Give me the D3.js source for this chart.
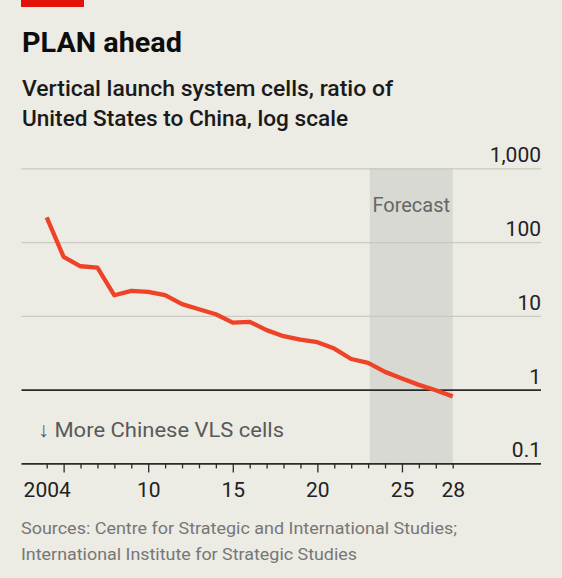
<!DOCTYPE html>
<html>
<head>
<meta charset="utf-8">
<script src="https://cdn.jsdelivr.net/npm/d3@7"></script>
<style>
  html, body { margin: 0; padding: 0; background: #ecebe4; }
  svg { display: block; }
  text { font-family: Roboto, "Noto Sans", sans-serif; }
</style>
</head>
<body>
<svg id="chart" width="562" height="578"></svg>
<script>
// ---- data ----
const years = [2004, 2005, 2006, 2007, 2008, 2009, 2010, 2011, 2012, 2013, 2014, 2015, 2016,
               2017, 2018, 2019, 2020, 2021, 2022, 2023, 2024, 2025, 2026, 2027, 2028];
const ratio = [216, 63, 47, 45, 19, 21.8, 21.2, 19.1, 14.4, 12.3, 10.5, 8.1, 8.3,
               6.4, 5.3, 4.75, 4.4, 3.6, 2.6, 2.3, 1.74, 1.42, 1.16, 0.98, 0.81];
const forecastRange = [2023.1, 2028];
const yTicks = [0.1, 1, 10, 100, 1000];
const yTickLabels = ["0.1", "1", "10", "100", "1,000"];
const xMajorTicks = [2004, 2010, 2015, 2020, 2025, 2028];
const xTickLabels = ["2004", "10", "15", "20", "25", "28"];
const titleText = "PLAN ahead";
const subtitleLines = ["Vertical launch system cells, ratio of", "United States to China, log scale"];
const sourceLines = ["Sources: Centre for Strategic and International Studies;",
                     "International Institute for Strategic Studies"];

// ---- layout ----
const svg = d3.select("#chart");
const gridLeft = 21.5, gridRight = 541;
const x = d3.scaleLinear().domain([2004, 2028]).range([46.7, 452.7]);
const y = d3.scaleLog().domain([0.1, 1000]).range([463.4, 168.3]);

// red tag
svg.append("rect").attr("x", 21).attr("y", 0).attr("width", 63).attr("height", 7).attr("fill", "#e3120b");

// title
svg.append("text").attr("x", 22).attr("y", 51.5).text(titleText)
  .attr("font-size", 28).attr("font-weight", 700).attr("fill", "#0d0d0d")
  .attr("textLength", 160).attr("lengthAdjust", "spacingAndGlyphs");

// subtitle
const subW = [371, 326];
svg.selectAll("text.sub").data(subtitleLines).join("text").attr("class", "sub")
  .attr("x", 22).attr("y", (d, i) => 96 + i * 29.5).text(d => d)
  .attr("font-size", 22).attr("font-weight", 500).attr("fill", "#1a1a1a")
  .attr("textLength", (d, i) => subW[i]).attr("lengthAdjust", "spacingAndGlyphs");

// forecast shading
svg.append("rect")
  .attr("x", x(forecastRange[0])).attr("width", x(forecastRange[1]) - x(forecastRange[0]))
  .attr("y", y(1000)).attr("height", y(0.1) - y(1000))
  .attr("fill", "#d9d9d3");
svg.append("text").attr("x", (x(forecastRange[0]) + x(forecastRange[1])) / 2).attr("y", 211.5)
  .attr("text-anchor", "middle").attr("font-size", 20).attr("fill", "#666")
  .text("Forecast");

// gridlines
const yAxis = d3.axisRight(y).tickValues(yTicks).tickSize(gridRight - gridLeft)
  .tickFormat((d, i) => yTickLabels[i]);
const gy = svg.append("g").attr("transform", `translate(${gridLeft},0)`).call(yAxis);
gy.select(".domain").remove();
gy.selectAll(".tick line")
  .attr("stroke", d => (d === 1 || d === 0.1) ? "#2a2a2a" : "#c9c9c2")
  .attr("stroke-width", d => (d === 1 || d === 0.1) ? 1.8 : 1.2);
gy.selectAll(".tick text")
  .attr("x", gridRight - gridLeft).attr("dy", -6.6).attr("text-anchor", "end")
  .attr("font-size", 21).attr("fill", "#222").attr("font-family", "Roboto, sans-serif");

// annotation
svg.append("text").attr("x", 38).attr("y", 436.7).attr("font-size", 21).attr("fill", "#595959")
  .attr("textLength", 246).attr("lengthAdjust", "spacingAndGlyphs")
  .text("↓ More Chinese VLS cells");

// line
const line = d3.line().x(d => x(d[0])).y(d => y(d[1]));
svg.append("path").datum(years.map((yr, i) => [yr, ratio[i]]))
  .attr("d", line).attr("fill", "none").attr("stroke", "#ef4327")
  .attr("stroke-width", 4.3).attr("stroke-linejoin", "round").attr("stroke-linecap", "butt");

// x axis
const allYears = d3.range(2004, 2029);
const gx = svg.append("g").attr("transform", `translate(0,${y(0.1)})`);
const xMinor = d3.axisBottom(x).tickValues(allYears).tickSize(5).tickFormat("");
gx.call(xMinor);
gx.select(".domain").remove();
gx.selectAll(".tick line").attr("stroke", "#2a2a2a").attr("stroke-width", 1.3)
  .attr("y2", d => (d % 5 === 0) ? 9 : 5);
const gxl = svg.append("g").attr("transform", `translate(0,${y(0.1)})`)
  .call(d3.axisBottom(x).tickValues(xMajorTicks).tickSize(0).tickPadding(0)
    .tickFormat((d, i) => xTickLabels[i]));
gxl.select(".domain").remove();
gxl.selectAll(".tick text").attr("y", 34).attr("dy", 0).attr("font-size", 21)
  .attr("fill", "#222").attr("font-family", "Roboto, sans-serif");

// sources
const srcW = [436, 336];
svg.selectAll("text.src").data(sourceLines).join("text").attr("class", "src")
  .attr("x", 21).attr("y", (d, i) => 534 + i * 26).text(d => d)
  .attr("font-size", 17).attr("fill", "#777")
  .attr("textLength", (d, i) => srcW[i]).attr("lengthAdjust", "spacingAndGlyphs");
</script>
</body>
</html>
